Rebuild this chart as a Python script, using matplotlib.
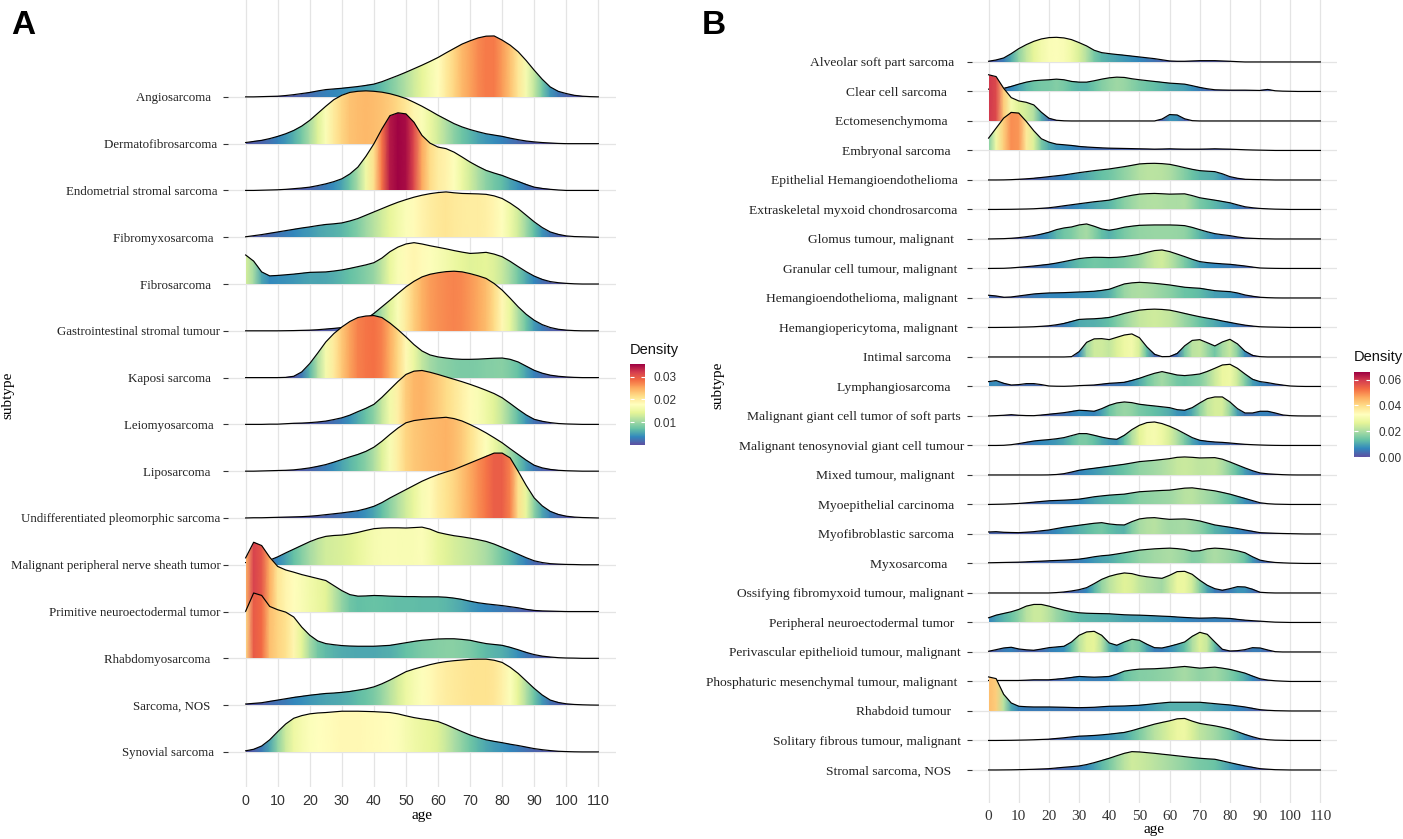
import numpy as np
import matplotlib
matplotlib.use("Agg")
import matplotlib.pyplot as plt
from matplotlib.patches import Polygon
from matplotlib.colors import Normalize
from matplotlib.colorbar import ColorbarBase

# age grid the densities were read on (every 2.5 years)
AGES = np.arange(0, 112.5, 2.5)

# panel A, top to bottom; densities in units of 0.001
A_SUBTYPES = [
    "Angiosarcoma   ", "Dermatofibrosarcoma ", "Endometrial stromal sarcoma ",
    "Fibromyxosarcoma  ", "Fibrosarcoma   ", "Gastrointestinal stromal tumour",
    "Kaposi sarcoma   ", "Leiomyosarcoma  ", "Liposarcoma   ",
    "Undifferentiated pleomorphic sarcoma", "Malignant peripheral nerve sheath tumor",
    "Primitive neuroectodermal tumor", "Rhabdomyosarcoma   ", "Sarcoma, NOS   ",
    "Synovial sarcoma  ",
]
A_DENSITY = [
    [0, 0, 0.1, 0.2, 0.3, 0.6, 1.0, 1.5, 2.0, 2.7, 3.3, 3.6, 3.9, 4.3, 4.7, 5.2, 5.8, 6.9,
     8.3, 9.7, 11.2, 12.8, 14.4, 16.1, 17.9, 20.0, 22.0, 24.0, 25.5, 26.8, 27.6, 27.7, 25.8, 23.5, 20.5, 16.5,
     12.1, 8.0, 4.5, 2.5, 1.5, 0.7, 0.3, 0.1, 0],
    [0.5, 1.0, 1.5, 2.3, 3.3, 4.5, 6.0, 8.0, 10.6, 13.8, 17.0, 20.0, 22.0, 23.3, 23.8, 24.0, 23.8, 23.4,
     22.7, 21.7, 20.5, 18.8, 17.0, 15.0, 12.9, 11.0, 9.1, 7.6, 6.4, 5.4, 4.5, 3.9, 3.3, 2.5, 1.8, 1.2,
     0.8, 0.5, 0.3, 0.1, 0, 0, 0, 0, 0],
    [0, 0, 0.1, 0.2, 0.3, 0.5, 0.8, 1.1, 1.5, 2.2, 3.0, 4.0, 5.3, 7.5, 10.6, 15.5, 21.2, 28.0,
     34.0, 35.3, 34.8, 31.0, 25.0, 21.5, 19.7, 19.0, 17.4, 15.2, 12.9, 10.9, 9.1, 7.9, 6.8, 5.4, 4.1, 2.7,
     1.5, 0.9, 0.5, 0.2, 0, 0, 0, 0, 0],
    [0.2, 0.7, 1.2, 1.8, 2.4, 3.0, 3.6, 4.2, 4.7, 5.3, 5.8, 6.1, 6.5, 7.4, 8.5, 10.0, 11.5, 13.0,
     14.5, 15.9, 17.1, 18.2, 19.1, 19.8, 20.3, 20.6, 20.2, 19.9, 19.8, 19.7, 19.5, 18.8, 17.6, 15.5, 13.0, 10.0,
     7.0, 4.4, 2.4, 1.3, 0.6, 0.3, 0.2, 0.1, 0],
    [13.2, 10.4, 5.5, 3.7, 3.9, 4.2, 4.5, 4.9, 5.3, 5.4, 5.5, 5.9, 6.4, 7.1, 7.9, 8.7, 9.7, 11.8,
     14.7, 16.8, 18.2, 18.8, 18.2, 17.4, 16.7, 16.0, 15.2, 14.5, 13.9, 14.1, 14.4, 13.6, 12.4, 10.3, 7.9, 5.6,
     3.6, 2.1, 1.1, 0.6, 0.3, 0.1, 0, 0, 0],
    [0, 0, 0, 0, 0, 0.05, 0.1, 0.2, 0.3, 0.5, 0.8, 1.1, 1.5, 2.2, 3.3, 5.3, 7.9, 10.9,
     13.9, 17.0, 20.0, 22.5, 24.5, 25.7, 26.4, 26.9, 27.1, 26.8, 26.0, 25.0, 23.8, 21.5, 18.5, 14.8, 10.9, 7.5,
     4.8, 2.8, 1.5, 0.7, 0.3, 0.1, 0, 0, 0],
    [0, 0, 0, 0, 0, 0.1, 0.6, 2.6, 6.4, 11.2, 16.2, 20.0, 23.0, 25.5, 27.3, 28.0, 28.2, 27.3,
     24.8, 21.8, 18.5, 15.0, 12.1, 10.3, 9.4, 8.9, 8.5, 8.3, 8.3, 8.4, 8.6, 8.8, 8.9, 8.3, 7.1, 5.2,
     3.3, 2.0, 1.1, 0.6, 0.3, 0.1, 0, 0, 0],
    [0, 0, 0, 0.1, 0.1, 0.3, 0.5, 0.6, 0.8, 1.1, 1.5, 2.2, 3.0, 4.2, 5.8, 7.3, 9.1, 12.3,
     15.9, 19.5, 22.7, 24.2, 24.5, 23.7, 22.7, 21.6, 20.5, 19.4, 18.2, 16.9, 15.5, 14.0, 12.1, 9.5, 6.8, 4.3,
     2.3, 1.4, 0.8, 0.4, 0.2, 0.1, 0, 0, 0],
    [0, 0, 0.1, 0.2, 0.3, 0.4, 0.6, 1.0, 1.5, 2.2, 3.0, 4.1, 5.3, 6.5, 7.6, 9.0, 10.9, 13.6,
     16.7, 19.6, 22.0, 23.0, 23.5, 23.9, 24.2, 24.5, 23.9, 22.8, 21.2, 19.4, 17.4, 15.2, 12.9, 10.2, 7.6, 5.0,
     2.7, 1.5, 0.8, 0.4, 0.2, 0.1, 0, 0, 0],
    [0, 0.1, 0.1, 0.2, 0.3, 0.4, 0.5, 0.6, 0.8, 1.1, 1.5, 1.9, 2.3, 2.8, 3.3, 4.2, 5.3, 7.0,
     9.1, 11.0, 12.9, 14.8, 16.7, 18.3, 19.7, 20.9, 22.0, 23.5, 25.0, 26.5, 28.0, 29.5, 29.5, 27.3, 21.2, 14.8,
     9.1, 5.5, 3.0, 1.6, 0.8, 0.4, 0.2, 0.1, 0],
    [1.0, 1.3, 1.6, 2.1, 3.6, 5.4, 7.1, 8.8, 10.5, 11.9, 12.9, 13.3, 13.5, 14.0, 14.7, 15.6, 16.4, 16.7,
     16.8, 16.8, 16.7, 16.9, 17.1, 16.2, 14.7, 13.9, 13.2, 12.7, 12.1, 11.4, 10.6, 9.4, 7.9, 6.4, 4.8, 3.2,
     1.8, 1.0, 0.5, 0.3, 0.15, 0.1, 0, 0, 0],
    [24.4, 31.5, 30.0, 24.7, 20.5, 18.9, 17.9, 16.8, 15.9, 15.0, 14.1, 11.8, 9.5, 7.7, 7.0, 7.1, 7.3, 7.2,
     7.0, 6.9, 6.8, 6.8, 6.7, 6.7, 6.7, 6.5, 6.1, 5.5, 4.7, 4.0, 3.5, 3.1, 2.7, 2.2, 1.7, 1.0,
     0.5, 0.3, 0.2, 0.1, 0, 0, 0, 0, 0],
    [21.4, 29.7, 28.6, 23.6, 22.1, 21.0, 18.8, 14.2, 10.5, 7.9, 6.7, 6.2, 5.8, 5.6, 5.5, 5.5, 5.5, 5.7,
     5.9, 6.5, 7.1, 7.7, 8.2, 8.5, 8.8, 8.9, 8.9, 8.6, 8.2, 7.4, 6.7, 6.3, 5.9, 5.0, 3.9, 2.7,
     1.7, 1.0, 0.6, 0.3, 0.15, 0.1, 0, 0, 0],
    [0.5, 0.8, 1.1, 1.7, 2.3, 2.9, 3.5, 4.0, 4.5, 4.9, 5.3, 5.5, 5.8, 6.2, 6.8, 7.4, 8.3, 9.7,
     11.4, 13.3, 15.2, 16.4, 17.4, 18.4, 19.2, 19.8, 20.2, 20.5, 20.8, 20.9, 20.9, 20.4, 19.4, 17.2, 14.4, 11.0,
     7.6, 4.6, 2.3, 1.2, 0.6, 0.3, 0.15, 0.05, 0],
    [0.5, 1.2, 2.7, 5.5, 9.2, 12.7, 15.3, 16.5, 17.3, 17.7, 17.9, 18.2, 18.5, 18.5, 18.5, 18.4, 18.3, 18.1,
     17.9, 17.3, 16.4, 15.6, 15.0, 14.5, 13.8, 12.4, 10.8, 9.2, 7.7, 6.5, 5.5, 4.8, 4.2, 3.5, 2.9, 2.2,
     1.5, 1.0, 0.6, 0.3, 0.15, 0.05, 0, 0, 0],
]

# panel B, top to bottom; densities in units of 0.001
B_SUBTYPES = [
    "Alveolar soft part sarcoma   ", "Clear cell sarcoma     ", "Ectomesenchymoma     ",
    "Embryonal sarcoma    ", "Epithelial Hemangioendothelioma  ",
    "Extraskeletal myxoid chondrosarcoma  ", "Glomus tumour, malignant   ",
    "Granular cell tumour, malignant  ", "Hemangioendothelioma, malignant  ",
    "Hemangiopericytoma, malignant  ", "Intimal sarcoma    ", "Lymphangiosarcoma    ",
    "Malignant giant cell tumor of soft parts ", "Malignant tenosynovial giant cell tumour",
    "Mixed tumour, malignant   ", "Myoepithelial carcinoma   ", "Myofibroblastic sarcoma   ",
    "Myxosarcoma     ", "Ossifying fibromyxoid tumour, malignant",
    "Peripheral neuroectodermal tumor   ", "Perivascular epithelioid tumour, malignant ",
    "Phosphaturic mesenchymal tumour, malignant  ", "Rhabdoid tumour    ",
    "Solitary fibrous tumour, malignant ", "Stromal sarcoma, NOS    ",
]
B_DENSITY = [
    [0.9, 2.6, 5.2, 10.8, 17.3, 22.5, 26.8, 29.9, 31.6, 32.0, 31.2, 29.0, 25.1, 20.8, 15.2, 12.1, 10.8, 9.7,
     8.7, 7.6, 6.5, 5.4, 4.3, 2.8, 1.3, 0.9, 0.9, 1.3, 1.7, 1.7, 1.7, 1.3, 0.9, 0.4, 0, 0,
     0, 0, 0, 0, 0, 0, 0, 0, 0],
    [3.0, 3.5, 4.0, 6.5, 9.5, 12.1, 13.9, 14.7, 15.2, 16.0, 15.2, 13.0, 12.1, 12.1, 13.9, 16.0, 17.7, 18.6,
     18.2, 16.5, 15.2, 14.1, 13.0, 11.9, 10.8, 10.2, 9.5, 7.5, 5.2, 3.5, 2.2, 1.9, 1.7, 1.7, 1.7, 1.5,
     1.3, 2.6, 0.9, 0.4, 0.2, 0, 0, 0, 0],
    [60.0, 57.6, 42.4, 30.3, 26.0, 24.2, 20.8, 11.3, 3.5, 0.9, 0.2, 0, 0, 0, 0, 0, 0, 0,
     0, 0, 0, 0, 0, 2.5, 8.3, 7.8, 2.8, 0.4, 0, 0, 0, 0, 0, 0, 0, 0,
     0, 0, 0, 0, 0, 0, 0, 0, 0],
    [16.0, 29.0, 42.0, 49.4, 48.5, 37.7, 25.5, 15.2, 10.8, 8.2, 7.4, 6.5, 5.2, 4.5, 3.9, 3.4, 3.0, 2.8,
     2.6, 2.4, 2.2, 2.0, 1.7, 1.9, 2.2, 1.9, 1.7, 1.7, 1.7, 1.9, 2.2, 1.9, 1.7, 1.3, 0.9, 0.6,
     0.4, 0.2, 0, 0, 0, 0, 0, 0, 0],
    [0, 0, 0.1, 0.4, 0.9, 1.5, 2.2, 3.2, 4.3, 5.4, 6.5, 8.0, 9.5, 10.8, 12.1, 13.2, 14.3, 15.8,
     17.3, 19.0, 20.8, 21.4, 21.6, 21.2, 20.3, 18.3, 16.0, 13.8, 12.1, 11.4, 10.8, 8.0, 4.3, 2.2, 0.9, 0.6,
     0.4, 0.2, 0, 0, 0, 0, 0, 0, 0],
    [0, 0, 0.1, 0.2, 0.4, 0.6, 0.9, 1.5, 2.2, 3.4, 4.8, 6.1, 7.4, 8.7, 10.0, 11.0, 12.1, 14.3,
     16.5, 18.4, 19.9, 20.5, 20.8, 20.4, 19.9, 20.1, 20.3, 18.0, 15.2, 13.6, 12.1, 10.4, 8.7, 6.0, 3.5, 2.2,
     1.3, 0.8, 0.4, 0.2, 0, 0, 0, 0, 0],
    [0, 0.2, 0.4, 0.9, 1.7, 2.9, 4.3, 6.3, 8.7, 12.1, 14.3, 15.6, 18.2, 19.5, 16.5, 13.0, 11.3, 13.0,
     15.2, 16.6, 17.7, 18.0, 18.2, 18.2, 18.2, 17.9, 17.3, 15.0, 12.1, 9.3, 6.9, 5.5, 4.3, 2.6, 1.3, 0.8,
     0.4, 0.2, 0, 0, 0, 0, 0, 0, 0],
    [0, 0.1, 0.2, 0.7, 1.5, 2.3, 3.2, 4.3, 5.4, 7.0, 8.9, 10.9, 12.8, 13.9, 14.5, 14.4, 14.1, 14.5,
     15.4, 16.8, 18.4, 20.9, 23.2, 24.0, 21.9, 18.7, 15.4, 11.9, 8.9, 7.6, 6.7, 6.0, 5.4, 4.3, 3.2, 1.8,
     0.6, 0.3, 0.1, 0, 0, 0, 0, 0, 0],
    [3.5, 2.6, 0.9, 1.3, 2.6, 3.9, 5.2, 5.9, 6.5, 6.7, 6.9, 7.3, 7.8, 8.2, 8.7, 9.8, 11.3, 14.8,
     18.2, 19.6, 20.3, 19.8, 19.0, 18.0, 16.9, 15.4, 13.9, 13.2, 12.6, 11.0, 9.5, 8.8, 8.2, 6.5, 3.9, 2.2,
     0.9, 0.4, 0.1, 0, 0, 0, 0, 0, 0],
    [0, 0, 0.1, 0.2, 0.4, 0.6, 0.9, 1.5, 2.2, 3.5, 5.2, 7.8, 10.4, 11.0, 11.3, 12.0, 13.0, 15.5,
     18.2, 20.5, 22.5, 23.4, 23.8, 23.4, 22.5, 20.5, 18.2, 16.0, 13.9, 12.1, 10.4, 8.4, 6.5, 4.7, 3.0, 1.8,
     0.9, 0.6, 0.4, 0.2, 0, 0, 0, 0, 0],
    [0, 0, 0, 0, 0, 0, 0, 0, 0, 0, 0, 0.4, 6.9, 19.0, 23.5, 23.8, 22.5, 25.5,
     28.5, 29.9, 25.0, 13.0, 3.5, 0.4, 0.6, 4.5, 14.5, 21.5, 22.5, 18.5, 14.3, 19.5, 22.9, 17.0, 7.5, 2.0,
     0.4, 0, 0, 0, 0, 0, 0, 0, 0],
    [6.3, 7.6, 4.1, 1.9, 2.4, 3.7, 3.7, 2.4, 0.6, 0.3, 0.2, 0.5, 1.1, 1.5, 1.9, 3.0, 4.1, 4.7,
     5.4, 7.8, 10.6, 14.0, 17.1, 19.3, 17.1, 14.9, 14.1, 15.0, 16.2, 19.5, 23.6, 27.9, 28.8, 23.6, 16.2, 9.3,
     6.3, 5.0, 3.2, 1.8, 0.6, 0.2, 0, 0, 0],
    [0, 0.4, 0.9, 1.7, 0.9, 0.5, 0.4, 1.2, 2.2, 3.2, 4.3, 5.8, 7.4, 6.9, 6.1, 9.5, 13.9, 16.9,
     18.2, 17.3, 15.2, 14.0, 13.0, 11.9, 10.8, 8.2, 7.4, 10.8, 16.9, 22.5, 24.7, 24.7, 18.2, 9.5, 3.9, 3.9,
     6.1, 6.1, 3.9, 1.3, 0.4, 0.1, 0, 0, 0],
    [0, 0, 0.2, 1.0, 2.4, 4.1, 5.8, 6.8, 7.6, 8.7, 10.2, 12.8, 15.4, 15.4, 13.2, 10.8, 8.9, 8.0,
     13.2, 20.6, 26.2, 29.7, 30.5, 28.4, 24.9, 20.6, 15.4, 10.2, 6.7, 5.4, 4.5, 4.0, 3.2, 2.3, 1.5, 1.0,
     0.6, 0.3, 0.1, 0, 0, 0, 0, 0, 0],
    [0, 0, 0, 0, 0, 0, 0, 0, 0.1, 0.6, 1.7, 3.8, 6.1, 7.5, 8.7, 10.0, 11.3, 12.6,
     13.9, 15.6, 17.3, 18.2, 19.0, 20.1, 21.2, 22.9, 23.4, 22.9, 22.1, 22.3, 22.5, 20.5, 16.9, 13.0, 9.1, 5.5,
     2.6, 1.5, 0.9, 0.4, 0.1, 0, 0, 0, 0],
    [0, 0.2, 0.4, 0.8, 1.3, 2.1, 3.0, 3.9, 4.8, 5.2, 5.6, 6.2, 6.9, 8.4, 10.0, 11.1, 12.1, 12.8,
     13.4, 15.0, 16.5, 17.1, 17.7, 18.2, 18.6, 19.9, 21.2, 21.6, 20.3, 19.0, 17.7, 15.6, 13.4, 10.6, 7.8, 5.0,
     2.2, 1.0, 0.4, 0.2, 0, 0, 0, 0, 0],
    [2.6, 3.0, 2.2, 1.9, 1.7, 2.3, 3.0, 4.1, 5.2, 7.0, 8.7, 10.0, 11.3, 12.6, 13.9, 14.7, 13.0, 12.0,
     11.7, 16.0, 19.5, 20.8, 21.2, 20.0, 19.0, 19.3, 19.5, 18.5, 16.9, 14.3, 11.7, 10.2, 8.7, 7.0, 5.2, 3.4,
     1.7, 1.3, 0.9, 0.6, 0.4, 0.2, 0, 0, 0],
    [0.9, 1.1, 1.3, 1.5, 1.7, 2.1, 2.6, 3.0, 3.5, 3.9, 4.3, 4.9, 5.6, 7.0, 8.7, 10.0, 10.8, 12.3,
     13.9, 15.6, 17.3, 18.2, 19.0, 19.5, 19.9, 19.3, 18.2, 16.0, 16.5, 19.0, 19.9, 19.3, 18.2, 16.5, 13.9, 8.7,
     4.3, 2.5, 1.3, 0.8, 0.4, 0.2, 0, 0, 0],
    [0, 0, 0, 0, 0, 0, 0, 0, 0, 0.5, 1.3, 2.6, 4.3, 6.9, 12.1, 17.7, 21.6, 24.2,
     26.0, 25.1, 22.5, 21.0, 19.9, 19.0, 22.9, 27.7, 28.1, 24.2, 16.5, 10.0, 5.6, 3.5, 5.6, 8.2, 7.8, 4.8,
     0.9, 0.3, 0, 0, 0, 0, 0, 0, 0],
    [6.1, 9.5, 11.7, 13.9, 16.9, 21.2, 23.4, 23.4, 21.2, 18.5, 16.0, 14.0, 12.6, 12.0, 11.7, 11.5, 11.3, 10.6,
     10.0, 9.7, 9.5, 9.1, 8.7, 8.2, 7.8, 7.1, 6.5, 6.0, 5.6, 5.8, 6.1, 5.6, 5.2, 4.0, 3.0, 2.3,
     1.7, 1.0, 0.4, 0.2, 0, 0, 0, 0, 0],
    [0.9, 3.0, 5.2, 6.1, 3.9, 2.8, 2.2, 3.8, 5.6, 6.5, 7.4, 13.0, 21.6, 26.0, 26.8, 21.6, 11.7, 8.7,
     13.0, 16.5, 15.2, 10.0, 5.6, 5.2, 7.4, 10.0, 13.0, 20.3, 25.5, 22.9, 13.0, 3.5, 1.3, 1.7, 3.0, 5.6,
     5.2, 2.6, 0.4, 0, 0, 0, 0, 0, 0],
    [1.3, 1.3, 1.3, 1.3, 1.3, 1.7, 2.2, 2.2, 2.2, 3.0, 3.9, 5.2, 6.5, 6.0, 5.6, 6.0, 6.5, 9.5,
     13.4, 15.0, 16.0, 16.3, 16.5, 17.1, 17.7, 18.6, 19.5, 18.4, 17.3, 18.0, 18.6, 17.3, 15.6, 13.4, 10.8, 7.0,
     3.5, 1.8, 0.9, 0.4, 0, 0, 0, 0, 0],
    [44.2, 42.0, 21.6, 10.4, 6.1, 5.5, 5.2, 5.2, 5.2, 5.0, 4.8, 4.5, 4.3, 4.5, 4.8, 5.5, 6.1, 6.3,
     6.5, 7.0, 7.4, 8.4, 9.5, 10.4, 11.3, 11.3, 11.3, 11.3, 11.3, 10.4, 9.5, 8.6, 7.8, 6.5, 5.2, 3.4,
     1.7, 0.9, 0.4, 0.2, 0, 0, 0, 0, 0],
    [0, 0, 0.1, 0.2, 0.4, 0.6, 0.9, 1.3, 1.7, 2.6, 3.5, 4.6, 5.6, 6.0, 6.5, 7.3, 8.2, 9.3,
     10.4, 12.8, 15.6, 18.4, 21.2, 23.4, 25.5, 28.1, 28.6, 25.1, 22.1, 20.5, 19.0, 17.0, 14.7, 11.4, 7.8, 4.8,
     2.2, 1.0, 0.4, 0.2, 0, 0, 0, 0, 0],
    [0, 0, 0.1, 0.2, 0.4, 0.6, 0.9, 1.3, 1.7, 2.6, 3.5, 4.3, 5.2, 7.0, 9.5, 12.3, 15.2, 18.5,
     21.6, 23.8, 23.4, 22.5, 21.6, 20.5, 19.5, 18.4, 17.3, 16.2, 15.2, 14.5, 13.9, 11.8, 9.5, 7.3, 5.2, 3.4,
     1.7, 1.0, 0.4, 0.2, 0, 0, 0, 0, 0],
]

CMAP = plt.get_cmap("Spectral_r")
SERIF = ["Liberation Serif", "DejaVu Serif"]
SANS = ["Liberation Sans", "DejaVu Sans"]
GRID = "#e4e4e4"


def draw_panel(ax, labels, density, rows_per_unit, norm, label_size):
    n = len(labels)
    for k, dens in enumerate(density):
        d = np.asarray(dens) / 1000.0
        y0 = n - 1 - k
        top = y0 + d * rows_per_unit
        z = 3 + 2 * k
        verts = np.column_stack([np.r_[AGES, AGES[::-1]],
                                 np.r_[top, np.full(len(AGES), y0)]])
        shape = Polygon(verts, closed=True, fc="none", ec="none")
        ax.add_patch(shape)
        X = np.vstack([AGES, AGES])
        Y = np.vstack([np.full(len(AGES), float(y0)), np.full(len(AGES), top.max() + 0.05)])
        C = np.vstack([d, d])
        mesh = ax.pcolormesh(X, Y, C, cmap=CMAP, norm=norm, shading="gouraud", zorder=z)
        mesh.set_clip_path(shape)
        ax.plot(AGES, top, color="black", lw=0.85, zorder=z + 1)

    ax.set_xlim(-5.5, 115.5)
    ax.set_yticks(range(n))
    ax.set_yticklabels(labels[::-1], family=SERIF, fontsize=label_size, color="#222222")
    ax.set_xticks(range(0, 111, 10))
    ax.grid(True, color=GRID, lw=0.9, zorder=0)
    ax.set_axisbelow(True)
    for s in ax.spines.values():
        s.set_visible(False)
    ax.tick_params(axis="y", length=3.5, width=0.8, color="#333333", pad=2)
    ax.tick_params(axis="x", length=0, pad=5)


fig = plt.figure(figsize=(14.03, 8.39), dpi=100)
W, H = 1403.0, 839.0

# panel A
normA = Normalize(vmin=0.0, vmax=0.0355)
axA = fig.add_axes([228 / W, 1 - 787 / H, 388 / W, 787 / H])
draw_panel(axA, A_SUBTYPES, A_DENSITY, 2200 / 46.8, normA, 9.3)
axA.set_ylim(-0.75, 16.07)
for t in axA.get_xticklabels():
    t.set_family(SANS)
    t.set_fontsize(10.3)
    t.set_color("#333333")

# panel B
normB = Normalize(vmin=0.0, vmax=0.066)
axB = fig.add_axes([972 / W, 1 - 803 / H, 365 / W, 803 / H])
draw_panel(axB, B_SUBTYPES, B_DENSITY, 770 / 29.5, normB, 9.7)
axB.set_ylim(-1.12, 26.1)
for t in axB.get_xticklabels():
    t.set_family(SERIF)
    t.set_fontsize(11)
    t.set_color("#333333")

# colour bars
for rect, norm, ticks, ty in [
        ([630 / W, 1 - 445 / H, 15 / W, 81 / H], normA, [0.01, 0.02, 0.03], 350),
        ([1354 / W, 1 - 457 / H, 16 / W, 85 / H], normB, [0.0, 0.02, 0.04, 0.06], 357)]:
    cax = fig.add_axes(rect)
    cb = ColorbarBase(cax, cmap=CMAP, norm=norm, orientation="vertical")
    cb.outline.set_visible(False)
    cb.set_ticks(ticks)
    cb.set_ticklabels(["{:.2f}".format(v) for v in ticks])
    cax.yaxis.set_ticks_position("both")
    cax.tick_params(direction="in", length=3, width=0.8, color="white",
                    labelsize=8.5, labelcolor="#333333", pad=6)
    for t in cax.get_yticklabels():
        t.set_family(SANS)
    fig.text(rect[0], 1 - ty / H, "Density", family=SANS, fontsize=10.5,
             ha="left", va="center", color="#111111")

# axis titles and panel letters
fig.text(422 / W, 1 - 815 / H, "age", family=SERIF, fontsize=11, ha="center", va="center")
fig.text(1154 / W, 1 - 830 / H, "age", family=SERIF, fontsize=11, ha="center", va="center")
fig.text(8 / W, 1 - 395 / H, "subtype", family=SERIF, fontsize=11, rotation=90,
         ha="center", va="center")
fig.text(718 / W, 1 - 385 / H, "subtype", family=SERIF, fontsize=11, rotation=90,
         ha="center", va="center")
fig.text(11 / W, 1 - 10 / H, "A", family=SANS, fontsize=24, fontweight="bold", ha="left", va="top")
fig.text(702 / W, 1 - 10 / H, "B", family=SANS, fontsize=24, fontweight="bold", ha="left", va="top")

fig.savefig("out.png", dpi=100)
